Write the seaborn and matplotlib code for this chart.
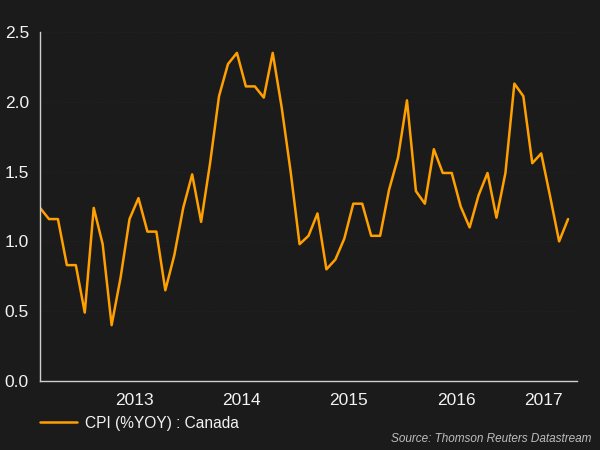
import numpy as np
import pandas as pd
import matplotlib
matplotlib.use("Agg")
import matplotlib.pyplot as plt
import matplotlib.transforms as mtransforms
import seaborn as sns

# monthly CPI %YOY Canada, Aug 2012 - Jul 2017
months = pd.date_range("2012-08-01", "2017-07-01", freq="MS")
cpi = [1.24, 1.16, 1.16, 0.83, 0.83,
       0.49, 1.24, 0.98, 0.40, 0.74, 1.16, 1.31, 1.07, 1.07, 0.65, 0.90, 1.24,
       1.48, 1.14, 1.56, 2.04, 2.27, 2.35, 2.11, 2.11, 2.03, 2.35, 1.96, 1.50,
       0.98, 1.04, 1.20, 0.80, 0.87, 1.02, 1.27, 1.27, 1.04, 1.04, 1.37, 1.60,
       2.01, 1.36, 1.27, 1.66, 1.49, 1.49, 1.25, 1.10, 1.33, 1.49, 1.17, 1.49,
       2.13, 2.04, 1.56, 1.63, 1.32, 1.00, 1.16]
years = ["2013", "2014", "2015", "2016", "2017"]
year_pos = [10.5, 22.5, 34.5, 46.5, 56.2]

df = pd.DataFrame({"idx": np.arange(len(cpi)), "cpi": cpi})

bg = "#1b1b1b"
fg = "#f2f2f2"
orange = "#ffa000"

sns.set_style("dark")
plt.rcParams['font.family'] = ['Liberation Sans', 'DejaVu Sans']

fig = plt.figure(figsize=(6, 4.5), dpi=100, facecolor=bg)
ax = fig.add_axes([0.0667, 0.1533, 0.895, 0.7757])
ax.set_facecolor(bg)

sns.lineplot(data=df, x="idx", y="cpi", ax=ax, color=orange, linewidth=1.8,
             label="CPI (%YOY) : Canada")

ax.set_xlim(0, 60)
ax.set_ylim(0, 2.5)
ax.set_xlabel("")
ax.set_ylabel("")

for s in ["top", "right"]:
    ax.spines[s].set_visible(False)
for s in ["left", "bottom"]:
    ax.spines[s].set_color("#cfcfcf")
    ax.spines[s].set_linewidth(1.0)

ax.set_yticks(np.arange(0, 2.51, 0.5))
ax.set_yticks(np.arange(0, 2.51, 0.1), minor=True)
ax.set_yticklabels([f"{v:.1f}" for v in np.arange(0, 2.51, 0.5)])
ax.set_xticks(np.arange(4.5, 60, 12))
ax.set_xticks(np.arange(1.5, 60, 3), minor=True)
ax.set_xticklabels([])
ax.tick_params(axis="both", which="major", length=5, width=1, color="#cfcfcf",
               labelcolor=fg, labelsize=12.5, pad=3)
ax.tick_params(axis="both", which="minor", length=3, width=1, color="#cfcfcf")
ax.grid(axis="y", which="major", color="#232323", linestyle=":", linewidth=0.8)
ax.grid(axis="x", visible=False)

trans = mtransforms.blended_transform_factory(ax.transData, ax.transAxes)
for lab, p in zip(years, year_pos):
    ax.text(p, -0.035, lab, transform=trans, ha="center", va="top",
            color=fg, fontsize=12.5)

leg = ax.legend(loc="upper left", bbox_to_anchor=(0.0, -0.1), frameon=False,
                fontsize=11.2, handlelength=2.4, handletextpad=0.5,
                borderpad=0, borderaxespad=0)
for t in leg.get_texts():
    t.set_color(fg)

fig.text(0.985, 0.012, "Source: Thomson Reuters Datastream", ha="right", va="bottom",
         color="#bdbdbd", fontsize=8.5, style="italic")

fig.savefig("out.png", dpi=100, facecolor=bg)
